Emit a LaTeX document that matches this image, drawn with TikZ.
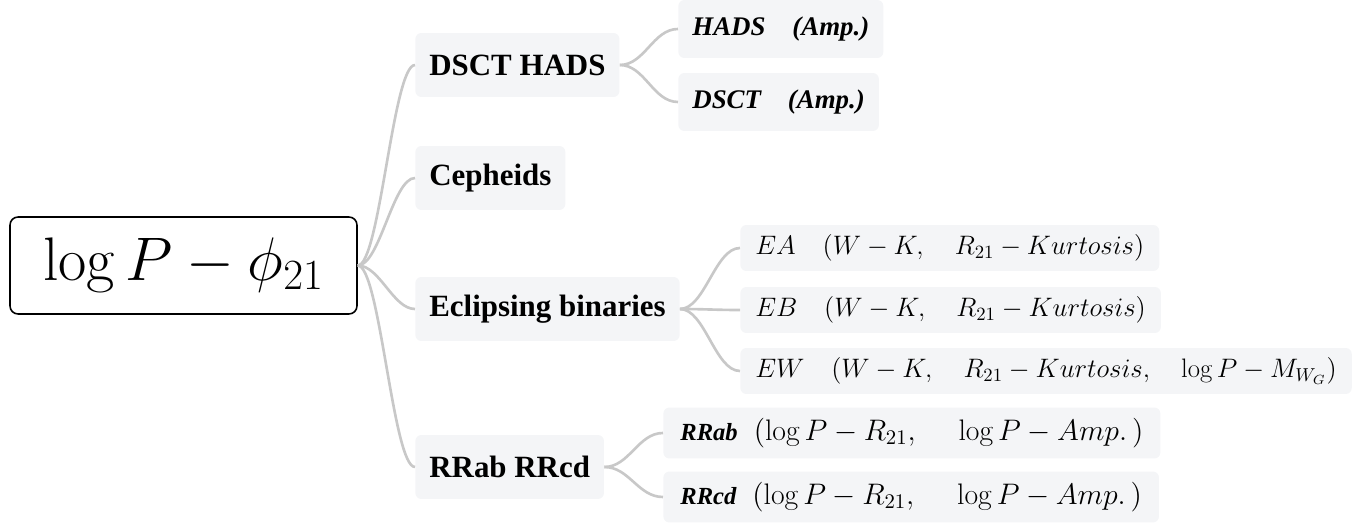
\RequirePackage{fix-cm}
\documentclass[tikz,border=0pt]{standalone}
\usepackage{amsmath}
\usepackage{fontspec}
\newfontfamily\timesfont{Liberation Serif}
\usetikzlibrary{positioning}

\definecolor{linkgray}{RGB}{200,200,200}
\definecolor{boxgray}{RGB}{244,245,247}

\tikzset{
  rootbox/.style={draw=black, line width=0.9pt, rounded corners=0.16cm, fill=white,
    minimum width=6.94cm, minimum height=1.94cm, font=\fontsize{35}{40}\selectfont},
  branchbox/.style={fill=boxgray, rounded corners=0.12cm, anchor=west,
    minimum height=1.28cm, inner xsep=0.28cm, font=\timesfont\bfseries\fontsize{17.6}{20}\selectfont},
  ampleaf/.style={fill=boxgray, rounded corners=0.12cm, anchor=west,
    minimum height=1.16cm, inner xsep=0.28cm, font=\timesfont\bfseries\itshape\fontsize{15.3}{18}\selectfont},
  mathleaf/.style={fill=boxgray, rounded corners=0.12cm, anchor=west,
    inner xsep=0.3cm, font=\fontsize{15.2}{18}\selectfont},
  link/.style={draw=linkgray, line width=1.5pt}
}
\newcommand{\rrname}[1]{{\timesfont\bfseries\itshape\fontsize{14}{16}\selectfont #1}\hspace{0.32cm}}

\begin{document}
\begin{tikzpicture}[x=0.02cm, y=-0.02cm]
    \useasboundingbox (0,0) rectangle (1361,523);

    % Root
    \node[rootbox] (root) at (183.5,265.5) {$\log P - \phi_{21}$};

    % First level
    \node[branchbox] (dscthads) at (415,65) {DSCT HADS};
    \node[branchbox] (cepheids) at (415,178) {Cepheids};
    \node[branchbox] (eclipsing) at (415,309) {Eclipsing binaries};
    \node[branchbox] (rrlyrae) at (415,467) {RRab RRcd};

    % Second level
    \node[ampleaf] (hads) at (678,29) {HADS\quad (Amp.)};
    \node[ampleaf] (dsct) at (678,102) {DSCT\quad (Amp.)};

    \node[mathleaf, minimum height=0.92cm] (ea) at (740,248)
        {$EA\quad (W-K,\quad R_{21}-Kurtosis)$};
    \node[mathleaf, minimum height=0.92cm] (eb) at (740,310)
        {$EB\quad (W-K,\quad R_{21}-Kurtosis)$};
    \node[mathleaf, minimum height=0.92cm] (ew) at (740,371)
        {$EW\quad (W-K,\quad R_{21}-Kurtosis,\quad \log P-M_{W_G})$};

    \node[mathleaf, minimum height=1.02cm, inner xsep=0.34cm, font=\fontsize{16.9}{19}\selectfont] (rrab) at (663,433)
        {\rrname{RRab}$(\log P-R_{21},\quad\; \log P-Amp.\,)$};
    \node[mathleaf, minimum height=1.02cm, inner xsep=0.34cm, font=\fontsize{16.9}{19}\selectfont] (rrcd) at (663,497)
        {\rrname{RRcd}$(\log P-R_{21},\quad\; \log P-Amp.\,)$};

    % Connectors
    \foreach \child in {dscthads, cepheids, eclipsing, rrlyrae}
        \draw[link] (root.east) .. controls +(22,0) and +(-22,0) .. (\child.west);
    \foreach \child in {hads, dsct}
        \draw[link] (dscthads.east) .. controls +(25,0) and +(-25,0) .. (\child.west);
    \foreach \child in {ea, eb, ew}
        \draw[link] (eclipsing.east) .. controls +(25,0) and +(-25,0) .. (\child.west);
    \foreach \child in {rrab, rrcd}
        \draw[link] (rrlyrae.east) .. controls +(25,0) and +(-25,0) .. (\child.west);
\end{tikzpicture}
\end{document}
